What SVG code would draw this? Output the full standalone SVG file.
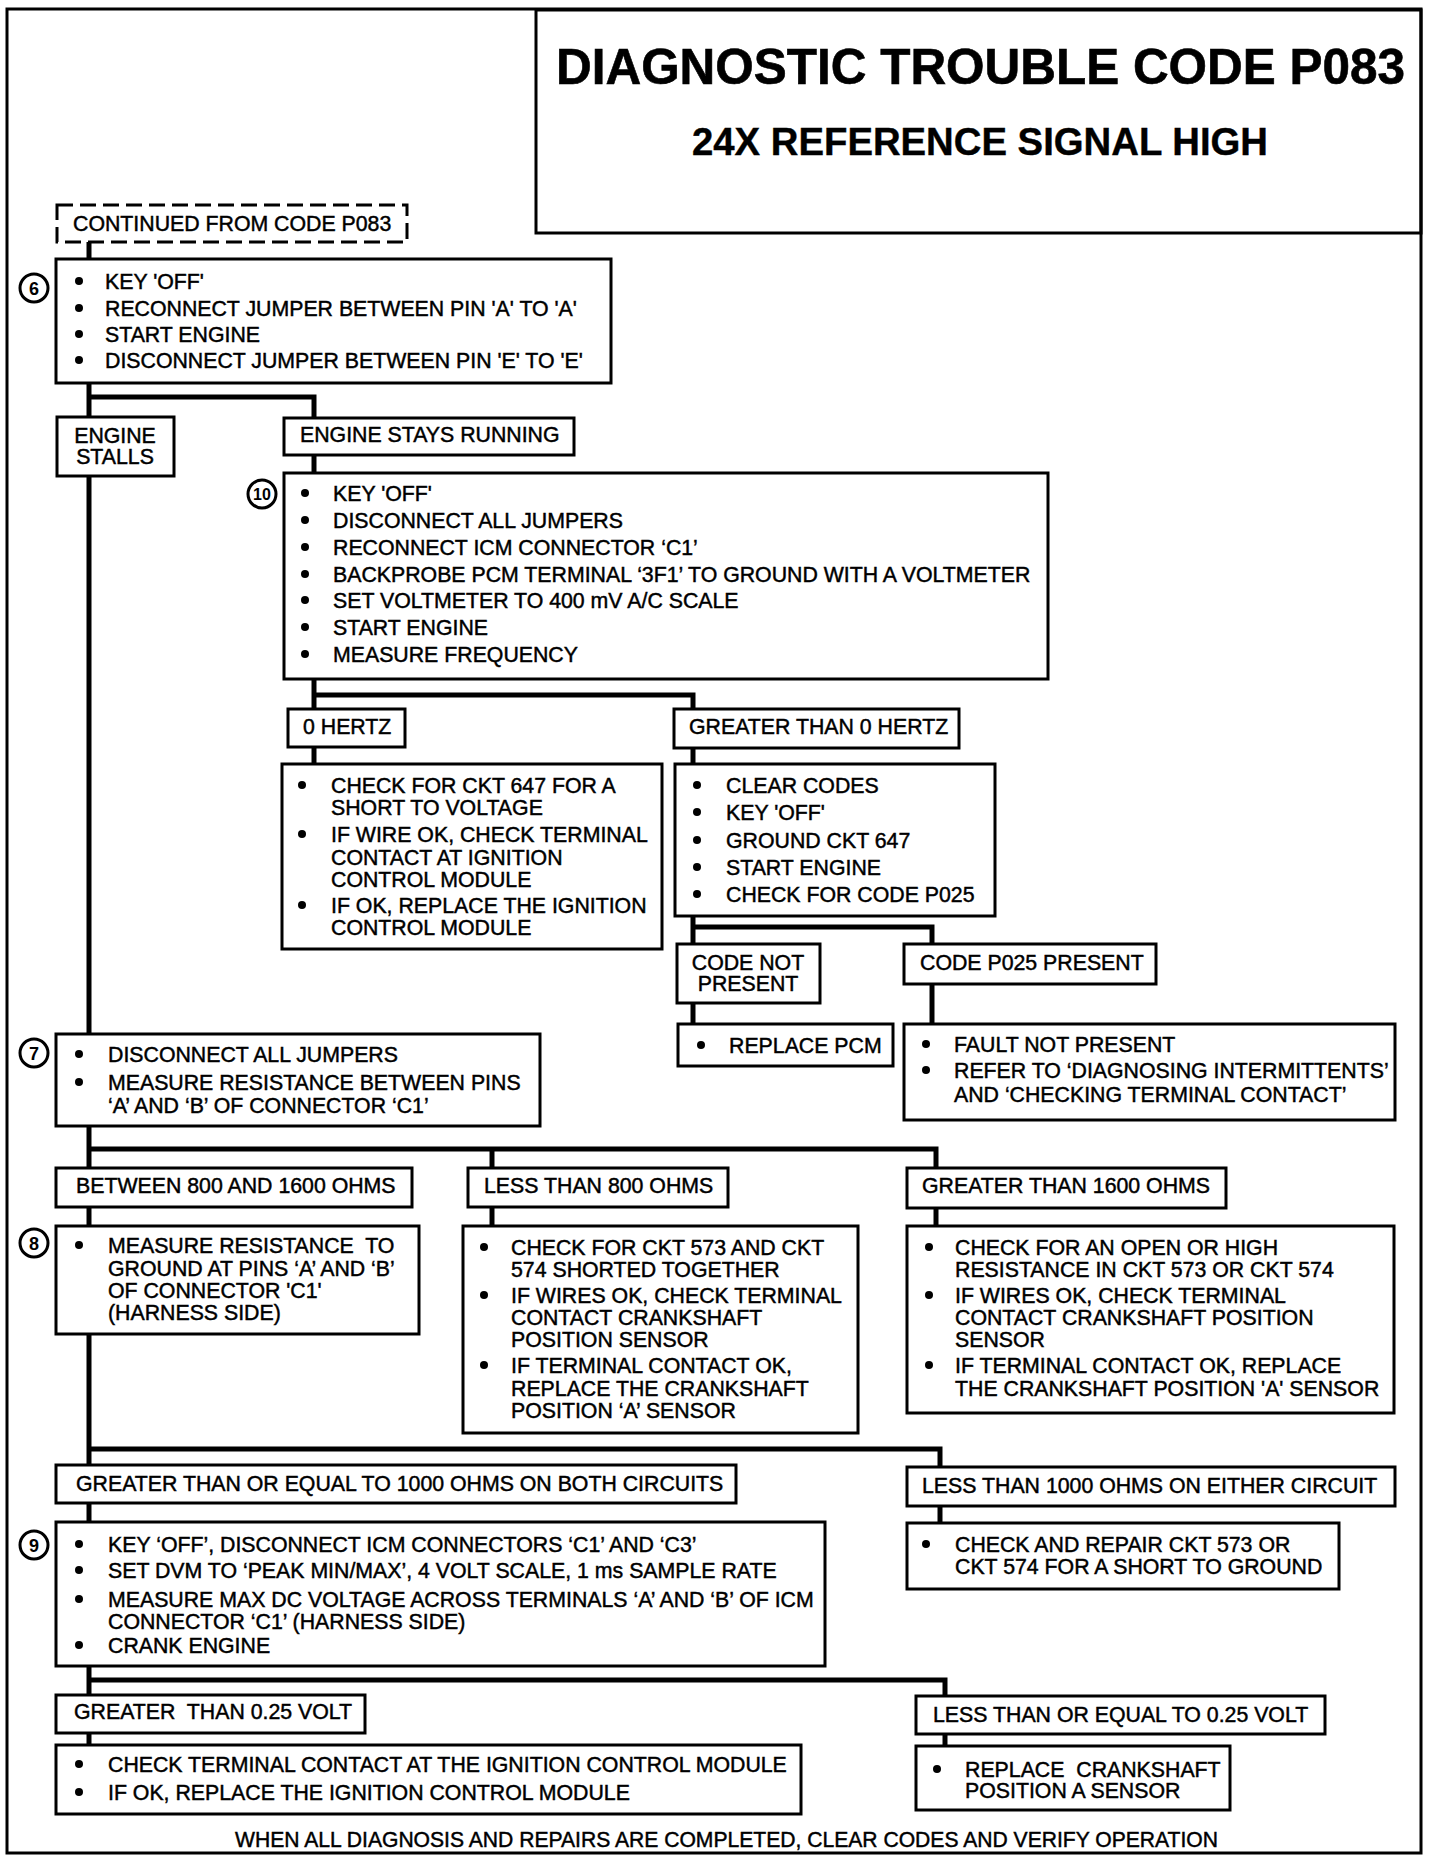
<svg xmlns="http://www.w3.org/2000/svg" width="1440" height="1864" viewBox="0 0 1440 1864">
<style>
.frame{fill:none;stroke:#000;stroke-width:3}
.box{fill:#fff;stroke:#000;stroke-width:3}
.dash{fill:#fff;stroke:#000;stroke-width:3;stroke-dasharray:16 7}
.conn path{fill:none;stroke:#000;stroke-width:5;stroke-linejoin:miter}
text{font-family:"Liberation Sans",Arial,sans-serif;font-size:21.3px;fill:#000;stroke:#000;stroke-width:0.45}
.title{font-weight:bold;font-size:50px;stroke-width:0.6}
.sub{font-weight:bold;font-size:38px;stroke-width:0.4}
.num{font-size:18px;font-weight:bold;text-anchor:middle;stroke-width:0}
.c{text-anchor:middle}
.pre{white-space:pre}
.step{fill:#fff;stroke:#000;stroke-width:3}
.b{fill:#000}
</style>
<rect x="0" y="0" width="1440" height="1864" fill="#fff"/>
<rect class="frame" x="7" y="9" width="1414" height="1844"/>
<g id="title">
<rect class="frame" x="536" y="10" width="885" height="223"/>
<text class="title" x="556" y="84" textLength="849" lengthAdjust="spacingAndGlyphs">DIAGNOSTIC TROUBLE CODE P083</text>
<text class="sub" x="692" y="155" textLength="576" lengthAdjust="spacingAndGlyphs">24X REFERENCE SIGNAL HIGH</text>
</g>
<g id="connectors" class="conn">
<path d="M89 242V260"/>
<path d="M89 383V418"/>
<path d="M89 397H314V419"/>
<path d="M89 476V1035"/>
<path d="M314 455V474"/>
<path d="M314 679V710"/>
<path d="M314 695H693V710"/>
<path d="M314 747V765"/>
<path d="M693 748V765"/>
<path d="M693 916V945"/>
<path d="M693 927H932V945"/>
<path d="M693 1003V1025"/>
<path d="M932 984V1025"/>
<path d="M89 1126V1169"/>
<path d="M89 1149H936V1169"/>
<path d="M492 1149V1169"/>
<path d="M89 1207V1227"/>
<path d="M492 1207V1227"/>
<path d="M936 1208V1227"/>
<path d="M89 1334V1466"/>
<path d="M89 1449H940V1468"/>
<path d="M89 1503V1523"/>
<path d="M940 1506V1524"/>
<path d="M89 1666V1696"/>
<path d="M89 1680H945V1697"/>
<path d="M89 1733V1746"/>
<path d="M945 1734V1747"/>
</g>
<g id="n-continued">
<rect class="dash" x="57" y="205" width="350" height="37"/>
<text x="73" y="231">CONTINUED FROM CODE P083</text>
</g>
<g id="n-step6">
<rect class="box" x="56" y="259" width="555" height="124"/>
<circle class="step" cx="34" cy="288" r="14"/>
<text class="num" x="34" y="294.5">6</text>
<circle class="b" cx="79" cy="281" r="4"/><text x="105" y="289">KEY 'OFF'</text>
<circle class="b" cx="79" cy="308" r="4"/><text x="105" y="316">RECONNECT JUMPER BETWEEN PIN 'A' TO 'A'</text>
<circle class="b" cx="79" cy="334" r="4"/><text x="105" y="342">START ENGINE</text>
<circle class="b" cx="79" cy="360" r="4"/><text x="105" y="368">DISCONNECT JUMPER BETWEEN PIN 'E' TO 'E'</text>
</g>
<g id="n-stalls">
<rect class="box" x="57" y="417" width="117" height="59"/>
<text class="c" x="115" y="443">ENGINE</text>
<text class="c" x="115" y="464">STALLS</text>
</g>
<g id="n-running">
<rect class="box" x="284" y="418" width="290" height="37"/>
<text x="300" y="442">ENGINE STAYS RUNNING</text>
</g>
<g id="n-step10">
<rect class="box" x="284" y="473" width="764" height="206"/>
<circle class="step" cx="262" cy="494" r="14"/>
<text class="num" x="262" y="500" style="font-size:16px">10</text>
<circle class="b" cx="305" cy="493" r="4"/><text x="333" y="501">KEY 'OFF'</text>
<circle class="b" cx="305" cy="520" r="4"/><text x="333" y="528">DISCONNECT ALL JUMPERS</text>
<circle class="b" cx="305" cy="547" r="4"/><text x="333" y="555">RECONNECT ICM CONNECTOR ‘C1’</text>
<circle class="b" cx="305" cy="574" r="4"/><text x="333" y="582">BACKPROBE PCM TERMINAL ‘3F1’ TO GROUND WITH A VOLTMETER</text>
<circle class="b" cx="305" cy="600" r="4"/><text x="333" y="608">SET VOLTMETER TO 400 mV A/C SCALE</text>
<circle class="b" cx="305" cy="627" r="4"/><text x="333" y="635">START ENGINE</text>
<circle class="b" cx="305" cy="654" r="4"/><text x="333" y="662">MEASURE FREQUENCY</text>
</g>
<g id="n-0hz">
<rect class="box" x="288" y="709" width="117" height="38"/>
<text x="303" y="734">0 HERTZ</text>
</g>
<g id="n-gt0hz">
<rect class="box" x="674" y="709" width="285" height="39"/>
<text x="689" y="734">GREATER THAN 0 HERTZ</text>
</g>
<g id="n-0hz-action">
<rect class="box" x="282" y="764" width="380" height="185"/>
<circle class="b" cx="302" cy="785" r="4"/><text x="331" y="793">CHECK FOR CKT 647 FOR A</text>
<text x="331" y="815">SHORT TO VOLTAGE</text>
<circle class="b" cx="302" cy="834" r="4"/><text x="331" y="842">IF WIRE OK, CHECK TERMINAL</text>
<text x="331" y="865">CONTACT AT IGNITION</text>
<text x="331" y="887">CONTROL MODULE</text>
<circle class="b" cx="302" cy="905" r="4"/><text x="331" y="913">IF OK, REPLACE THE IGNITION</text>
<text x="331" y="935">CONTROL MODULE</text>
</g>
<g id="n-gt0hz-action">
<rect class="box" x="675" y="764" width="320" height="152"/>
<circle class="b" cx="697" cy="785" r="4"/><text x="726" y="793">CLEAR CODES</text>
<circle class="b" cx="697" cy="812" r="4"/><text x="726" y="820">KEY 'OFF'</text>
<circle class="b" cx="697" cy="840" r="4"/><text x="726" y="848">GROUND CKT 647</text>
<circle class="b" cx="697" cy="867" r="4"/><text x="726" y="875">START ENGINE</text>
<circle class="b" cx="697" cy="894" r="4"/><text x="726" y="902">CHECK FOR CODE P025</text>
</g>
<g id="n-code-not-present">
<rect class="box" x="677" y="944" width="143" height="59"/>
<text class="c" x="748" y="970">CODE NOT</text>
<text class="c" x="748" y="991">PRESENT</text>
</g>
<g id="n-code-present">
<rect class="box" x="904" y="944" width="252" height="40"/>
<text x="920" y="970">CODE P025 PRESENT</text>
</g>
<g id="n-replace-pcm">
<rect class="box" x="678" y="1024" width="215" height="42"/>
<circle class="b" cx="701" cy="1045" r="4"/><text x="729" y="1053">REPLACE PCM</text>
</g>
<g id="n-fault">
<rect class="box" x="904" y="1024" width="491" height="96"/>
<circle class="b" cx="926" cy="1044" r="4"/><text x="954" y="1052">FAULT NOT PRESENT</text>
<circle class="b" cx="926" cy="1070" r="4"/><text x="954" y="1078">REFER TO ‘DIAGNOSING INTERMITTENTS’</text>
<text x="954" y="1102">AND ‘CHECKING TERMINAL CONTACT’</text>
</g>
<g id="n-step7">
<rect class="box" x="56" y="1034" width="484" height="92"/>
<circle class="step" cx="34" cy="1053" r="14"/>
<text class="num" x="34" y="1059.5">7</text>
<circle class="b" cx="79" cy="1054" r="4"/><text x="108" y="1062">DISCONNECT ALL JUMPERS</text>
<circle class="b" cx="79" cy="1082" r="4"/><text x="108" y="1090">MEASURE RESISTANCE BETWEEN PINS</text>
<text x="108" y="1113">‘A’ AND ‘B’ OF CONNECTOR ‘C1’</text>
</g>
<g id="n-800-1600">
<rect class="box" x="56" y="1168" width="356" height="39"/>
<text x="76" y="1193">BETWEEN 800 AND 1600 OHMS</text>
</g>
<g id="n-lt800">
<rect class="box" x="468" y="1168" width="260" height="39"/>
<text x="484" y="1193">LESS THAN 800 OHMS</text>
</g>
<g id="n-gt1600">
<rect class="box" x="907" y="1168" width="319" height="40"/>
<text x="922" y="1193">GREATER THAN 1600 OHMS</text>
</g>
<g id="n-step8">
<rect class="box" x="56" y="1226" width="363" height="108"/>
<circle class="step" cx="34" cy="1243" r="14"/>
<text class="num" x="34" y="1249.5">8</text>
<circle class="b" cx="79" cy="1245" r="4"/><text class="pre" x="108" y="1253">MEASURE RESISTANCE  TO</text>
<text x="108" y="1276">GROUND AT PINS ‘A’ AND ‘B’</text>
<text x="108" y="1298">OF CONNECTOR 'C1'</text>
<text x="108" y="1320">(HARNESS SIDE)</text>
</g>
<g id="n-lt800-action">
<rect class="box" x="463" y="1226" width="395" height="207"/>
<circle class="b" cx="484" cy="1247" r="4"/><text x="511" y="1255">CHECK FOR CKT 573 AND CKT</text>
<text x="511" y="1277">574 SHORTED TOGETHER</text>
<circle class="b" cx="484" cy="1295" r="4"/><text x="511" y="1303">IF WIRES OK, CHECK TERMINAL</text>
<text x="511" y="1325">CONTACT CRANKSHAFT</text>
<text x="511" y="1347">POSITION SENSOR</text>
<circle class="b" cx="484" cy="1365" r="4"/><text x="511" y="1373">IF TERMINAL CONTACT OK,</text>
<text x="511" y="1396">REPLACE THE CRANKSHAFT</text>
<text x="511" y="1418">POSITION ‘A’ SENSOR</text>
</g>
<g id="n-gt1600-action">
<rect class="box" x="907" y="1226" width="487" height="187"/>
<circle class="b" cx="929" cy="1247" r="4"/><text x="955" y="1255">CHECK FOR AN OPEN OR HIGH</text>
<text x="955" y="1277">RESISTANCE IN CKT 573 OR CKT 574</text>
<circle class="b" cx="929" cy="1295" r="4"/><text x="955" y="1303">IF WIRES OK, CHECK TERMINAL</text>
<text x="955" y="1325">CONTACT CRANKSHAFT POSITION</text>
<text x="955" y="1347">SENSOR</text>
<circle class="b" cx="929" cy="1365" r="4"/><text x="955" y="1373">IF TERMINAL CONTACT OK, REPLACE</text>
<text x="955" y="1396">THE CRANKSHAFT POSITION 'A' SENSOR</text>
</g>
<g id="n-gte1000">
<rect class="box" x="56" y="1465" width="680" height="38"/>
<text x="76" y="1491">GREATER THAN OR EQUAL TO 1000 OHMS ON BOTH CIRCUITS</text>
</g>
<g id="n-lt1000">
<rect class="box" x="907" y="1467" width="488" height="39"/>
<text x="922" y="1493">LESS THAN 1000 OHMS ON EITHER CIRCUIT</text>
</g>
<g id="n-repair">
<rect class="box" x="907" y="1523" width="432" height="66"/>
<circle class="b" cx="926" cy="1544" r="4"/><text x="955" y="1552">CHECK AND REPAIR CKT 573 OR</text>
<text x="955" y="1574">CKT 574 FOR A SHORT TO GROUND</text>
</g>
<g id="n-step9">
<rect class="box" x="56" y="1522" width="769" height="144"/>
<circle class="step" cx="34" cy="1545" r="14"/>
<text class="num" x="34" y="1551.5">9</text>
<circle class="b" cx="79" cy="1544" r="4"/><text x="108" y="1552">KEY ‘OFF’, DISCONNECT ICM CONNECTORS ‘C1’ AND ‘C3’</text>
<circle class="b" cx="79" cy="1570" r="4"/><text x="108" y="1578">SET DVM TO ‘PEAK MIN/MAX’, 4 VOLT SCALE, 1 ms SAMPLE RATE</text>
<circle class="b" cx="79" cy="1599" r="4"/><text x="108" y="1607">MEASURE MAX DC VOLTAGE ACROSS TERMINALS ‘A’ AND ‘B’ OF ICM</text>
<text x="108" y="1629">CONNECTOR ‘C1’ (HARNESS SIDE)</text>
<circle class="b" cx="79" cy="1645" r="4"/><text x="108" y="1653">CRANK ENGINE</text>
</g>
<g id="n-gt025">
<rect class="box" x="56" y="1695" width="309" height="38"/>
<text class="pre" x="74" y="1719">GREATER  THAN 0.25 VOLT</text>
</g>
<g id="n-le025">
<rect class="box" x="916" y="1696" width="409" height="38"/>
<text x="933" y="1722">LESS THAN OR EQUAL TO 0.25 VOLT</text>
</g>
<g id="n-gt025-action">
<rect class="box" x="56" y="1745" width="745" height="69"/>
<circle class="b" cx="79" cy="1764" r="4"/><text x="108" y="1772">CHECK TERMINAL CONTACT AT THE IGNITION CONTROL MODULE</text>
<circle class="b" cx="79" cy="1792" r="4"/><text x="108" y="1800">IF OK, REPLACE THE IGNITION CONTROL MODULE</text>
</g>
<g id="n-replace-ckp">
<rect class="box" x="916" y="1746" width="314" height="64"/>
<circle class="b" cx="937" cy="1769" r="4"/><text class="pre" x="965" y="1777">REPLACE  CRANKSHAFT</text>
<text x="965" y="1798">POSITION A SENSOR</text>
</g>
<g id="footer">
<text x="235" y="1847" textLength="983" lengthAdjust="spacingAndGlyphs">WHEN ALL DIAGNOSIS AND REPAIRS ARE COMPLETED, CLEAR CODES AND VERIFY OPERATION</text>
</g>
</svg>
